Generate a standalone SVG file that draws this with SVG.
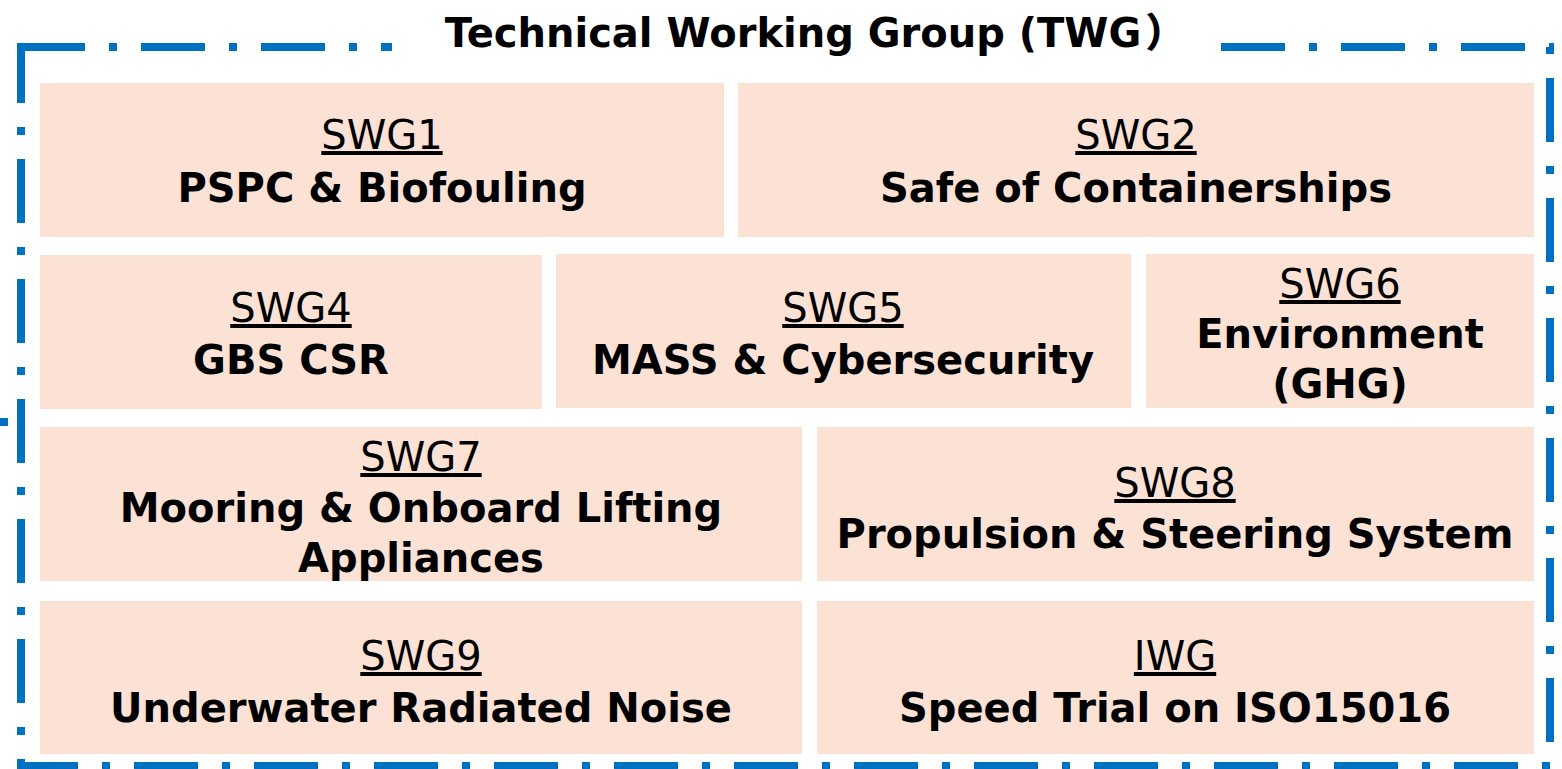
<svg xmlns="http://www.w3.org/2000/svg" width="1562" height="769" viewBox="0 0 1562 769">
<style>
.box{fill:#FBE2D5}
.lbl{font-family:"DejaVu Sans","Noto Sans",sans-serif;font-size:40px;fill:#000;text-anchor:middle;text-decoration:underline}
.ttl{font-family:"DejaVu Sans","Noto Sans",sans-serif;font-size:40px;font-weight:bold;fill:#000;text-anchor:middle}
.head{font-family:"DejaVu Sans","Noto Sans CJK JP",sans-serif;font-size:40px;font-weight:bold;fill:#000;text-anchor:middle}
.cjk{font-family:"Noto Sans CJK JP","Noto Sans CJK SC",sans-serif;font-weight:900}
</style>
<rect width="1562" height="769" fill="#fff"/>
<g id="frame">
<rect x="21" y="47" width="1529" height="719" fill="none" stroke="#0070C0" stroke-width="8" stroke-dasharray="64 24 8 24"/>
<rect x="0" y="418" width="8" height="8" fill="#0070C0"/>
<rect x="392" y="18" width="825" height="52" fill="#fff"/>
<text class="head" x="815" y="47">Technical Working Group (TWG<tspan class="cjk" dx="4">）</tspan></text>
</g>
<g id="swg1"><rect class="box" x="40" y="83" width="684" height="154"/>
<text class="lbl" x="382" y="149">SWG1</text><text class="ttl" x="382" y="202">PSPC &amp; Biofouling</text></g>
<g id="swg2"><rect class="box" x="738" y="83" width="796" height="154"/>
<text class="lbl" x="1136" y="149">SWG2</text><text class="ttl" x="1136" y="202">Safe of Containerships</text></g>
<g id="swg4"><rect class="box" x="40" y="255" width="502" height="154"/>
<text class="lbl" x="291" y="322">SWG4</text><text class="ttl" x="291" y="374">GBS CSR</text></g>
<g id="swg5"><rect class="box" x="556" y="254" width="575" height="154"/>
<text class="lbl" x="843" y="322">SWG5</text><text class="ttl" x="843" y="374">MASS &amp; Cybersecurity</text></g>
<g id="swg6"><rect class="box" x="1146" y="254" width="388" height="154"/>
<text class="lbl" x="1340" y="298">SWG6</text><text class="ttl" x="1340" y="348">Environment</text><text class="ttl" x="1340" y="398">(GHG)</text></g>
<g id="swg7"><rect class="box" x="40" y="427" width="762" height="154"/>
<text class="lbl" x="421" y="471">SWG7</text><text class="ttl" x="421" y="522">Mooring &amp; Onboard Lifting</text><text class="ttl" x="421" y="572">Appliances</text></g>
<g id="swg8"><rect class="box" x="817" y="427" width="717" height="154"/>
<text class="lbl" x="1175" y="497">SWG8</text><text class="ttl" x="1175" y="548">Propulsion &amp; Steering System</text></g>
<g id="swg9"><rect class="box" x="40" y="601" width="762" height="153"/>
<text class="lbl" x="421" y="670">SWG9</text><text class="ttl" x="421" y="722">Underwater Radiated Noise</text></g>
<g id="iwg"><rect class="box" x="817" y="601" width="717" height="153"/>
<text class="lbl" x="1175" y="670">IWG</text><text class="ttl" x="1175" y="722">Speed Trial on ISO15016</text></g>
<g id="connectors"/>
</svg>
